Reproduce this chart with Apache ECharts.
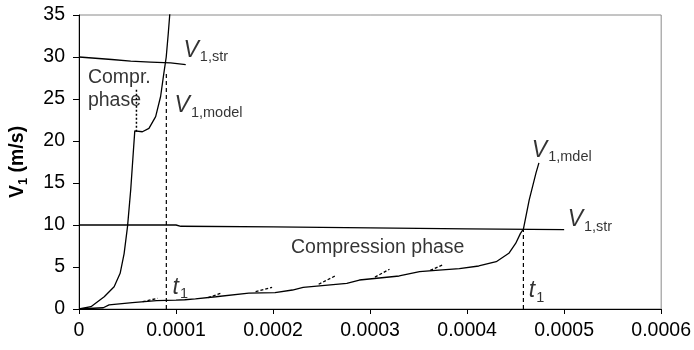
<!DOCTYPE html>
<html>
<head>
<meta charset="utf-8">
<script src="https://cdn.jsdelivr.net/npm/echarts@6/dist/echarts.min.js"></script>
<style>
  html, body { margin: 0; padding: 0; background: #fff; }
  #chart { width: 694px; height: 350px; }
</style>
</head>
<body>
<div id="chart"></div>
<script>
// Time axis (s) ticks
const xTicks = [0, 0.0001, 0.0002, 0.0003, 0.0004, 0.0005, 0.0006];
const xTickLabels = ['0', '0.0001', '0.0002', '0.0003', '0.0004', '0.0005', '0.0006'];

// High-speed case: strength velocity and model velocity
const strHighT = [0, 0.0000338, 0.0000533, 0.0000738, 0.0000944, 0.00011];
const strHighV = [30, 29.7, 29.5, 29.4, 29.3, 29.1];

const modelHighT = [0, 0.0000123, 0.000026, 0.0000362, 0.0000424, 0.0000465, 0.00005, 0.0000533,
  0.0000561, 0.0000575, 0.0000585, 0.0000653, 0.0000721, 0.000079, 0.0000841, 0.0000875,
  0.0000899, 0.000092, 0.0000937];
const modelHighV = [0, 0.28, 1.46, 2.65, 4.25, 6.6, 9.8, 14.2, 18.9, 21.2, 21.1, 21.1, 21.5,
  22.9, 25.3, 28.1, 30.0, 32.8, 35.3];

// Low-speed case
const strLowT = [0, 0.0001, 0.000105, 0.0002, 0.0003, 0.0004, 0.0005];
const strLowV = [10, 10, 9.85, 9.78, 9.65, 9.55, 9.45];

const modelLowT = [0, 0.000025, 0.000031, 0.000055, 0.00008, 0.0001, 0.000109, 0.00012, 0.000141,
  0.000175, 0.000202, 0.00022, 0.000231, 0.000276, 0.000289, 0.00033, 0.000351, 0.000371,
  0.000392, 0.000412, 0.00043, 0.000443, 0.00045, 0.000455, 0.000458, 0.000464, 0.000471, 0.000474];
const modelLowV = [0, 0.15, 0.5, 0.75, 1.0, 1.05, 1.1, 1.2, 1.46, 1.9, 1.95, 2.26, 2.58, 3.06,
  3.45, 3.93, 4.44, 4.64, 4.8, 5.12, 5.63, 6.63, 7.8, 9.0, 9.5, 13, 16.2, 17.4];

// Short tangent segments along the low-speed model curve: [t0, v0, t1, v1]
const tangentSegs = [
  [0.0000656, 0.87, 0.000081, 1.27],
  [0.000133, 1.35, 0.000146, 1.87],
  [0.000182, 2.06, 0.000199, 2.58],
  [0.000247, 2.95, 0.000264, 3.93],
  [0.000305, 3.8, 0.00032, 4.73],
  [0.000362, 4.6, 0.000376, 5.32]
];

// Time t1 markers: [t, vTop]
const t1High = [0.00009, 28.3];
const t1Low = [0.000458, 9.5];
// End of compression phase marker (high-speed case): [t, vBottom, vTop]
const comprEnd = [0.0000592, 21.1, 26.3];

// Annotations: [t, v, text key]
const notes = [
  [0.0001077, 30.8, 'vstr'],
  [0.0000985, 24.2, 'vmodel'],
  [0.0004667, 18.9, 'vmdel'],
  [0.0005036, 10.65, 'vstr'],
  [0.0002185, 7.3, 'compression'],
  [0.0000092, 26.2, 'compr'],
  [0.0000964, 2.6, 't1'],
  [0.0004636, 2.15, 't1']
];

const noteText = {
  vstr: '{v|V}{s|1,str}',
  vmodel: '{v|V}{s|1,model}',
  vmdel: '{v|V}{s|1,mdel}',
  compression: '{n|Compression phase}',
  compr: '{n|Compr.}\n{n|phase}',
  t1: '{v|t}{s|1}'
};

const zip = (a, b) => a.map((x, i) => [x, b[i]]);
const FONT = '"Liberation Sans", Arial, sans-serif';
const black = '#000';

const lineBase = {
  type: 'line', symbol: 'none', silent: true, animation: false
};

const series = [
  Object.assign({}, lineBase, { data: zip(strHighT, strHighV), lineStyle: { color: black, width: 1.3 } }),
  Object.assign({}, lineBase, { data: zip(modelHighT, modelHighV), lineStyle: { color: black, width: 1.3 } }),
  Object.assign({}, lineBase, { data: zip(strLowT, strLowV), lineStyle: { color: black, width: 1.3 } }),
  Object.assign({}, lineBase, { data: zip(modelLowT, modelLowV), lineStyle: { color: black, width: 1.3 } }),
  Object.assign({}, lineBase, {
    data: [[t1High[0], 0], [t1High[0], t1High[1]]],
    lineStyle: { color: black, width: 1.2, type: [4, 3] }
  }),
  Object.assign({}, lineBase, {
    data: [[t1Low[0], 0], [t1Low[0], t1Low[1]]],
    lineStyle: { color: black, width: 1.2, type: [4, 3] }
  }),
  Object.assign({}, lineBase, {
    data: [[comprEnd[0], comprEnd[1]], [comprEnd[0], comprEnd[2]]],
    lineStyle: { color: black, width: 1.5, type: [2, 2] }
  })
];

tangentSegs.forEach(s => {
  series.push(Object.assign({}, lineBase, {
    data: [[s[0], s[1]], [s[2], s[3]]],
    lineStyle: { color: black, width: 1.3, type: [3, 2] }
  }));
});

series.push({
  type: 'scatter',
  silent: true,
  animation: false,
  symbolSize: 0,
  data: notes.map(n => ({ value: [n[0], n[1]], key: n[2] })),
  label: {
    show: true,
    position: 'inside',
    align: 'left',
    verticalAlign: 'middle',
    color: black,
    formatter: p => noteText[p.data.key],
    rich: {
      v: { fontFamily: FONT, fontSize: 23, fontStyle: 'italic', color: black },
      s: { fontFamily: FONT, fontSize: 14.5, color: black, verticalAlign: 'bottom', padding: [0, 0, -3, 1] },
      n: { fontFamily: FONT, fontSize: 19.5, color: black, lineHeight: 23 }
    }
  }
});

const chart = echarts.init(document.getElementById('chart'), null, { renderer: 'canvas' });
chart.setOption({
  backgroundColor: '#fff',
  animation: false,
  grid: {
    left: 78, right: 31, top: 15, bottom: 41,
    show: true, borderColor: '#8a8a8a', borderWidth: 1, backgroundColor: 'transparent'
  },
  xAxis: {
    type: 'value',
    min: xTicks[0], max: xTicks[xTicks.length - 1], interval: xTicks[1] - xTicks[0],
    axisLine: { show: true, lineStyle: { color: black, width: 1 } },
    axisTick: { show: true, length: 5, lineStyle: { color: black } },
    splitLine: { show: false },
    axisLabel: {
      color: black, fontFamily: FONT, fontSize: 19.5, margin: 12,
      formatter: v => {
        const i = xTicks.findIndex(t => Math.abs(t - v) < 1e-9);
        return i >= 0 ? xTickLabels[i] : '';
      }
    }
  },
  yAxis: {
    type: 'value',
    min: 0, max: 35, interval: 5,
    name: '{b|V}{bs|1}{b| (m/s)}',
    nameLocation: 'middle',
    nameGap: 51,
    nameTextStyle: {
      rich: {
        b: { fontFamily: FONT, fontSize: 19.5, fontWeight: 'bold', color: black },
        bs: { fontFamily: FONT, fontSize: 13, fontWeight: 'bold', color: black, verticalAlign: 'bottom', padding: [0, 0, -2, 0] }
      }
    },
    axisLine: { show: true, lineStyle: { color: black, width: 1 } },
    axisTick: { show: true, length: 6, lineStyle: { color: black } },
    splitLine: { show: false },
    axisLabel: { color: black, fontFamily: FONT, fontSize: 19.5, margin: 14 }
  },
  series: series
});
</script>
</body>
</html>
